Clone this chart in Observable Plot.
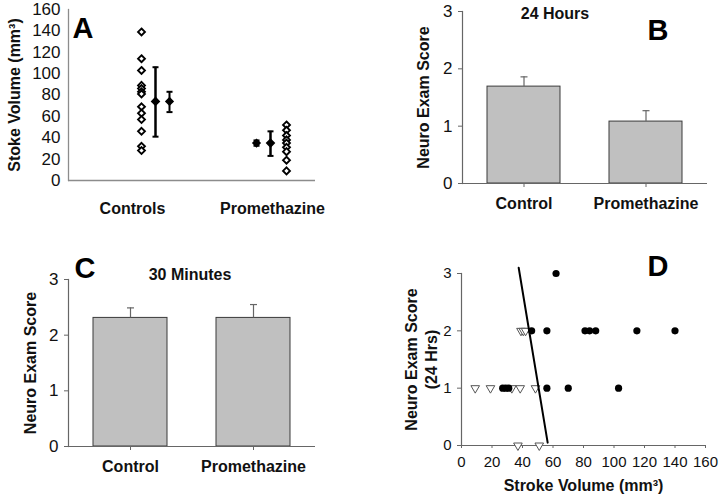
<!DOCTYPE html>
<html><head><meta charset="utf-8">
<script src="https://cdn.jsdelivr.net/npm/d3@7"></script>
<script src="https://cdn.jsdelivr.net/npm/@observablehq/plot@0.6"></script>
<style>
body{margin:0;background:#fff;}
#wrap{position:relative;width:720px;height:494px;overflow:hidden;background:#fff;}
#wrap > *{position:absolute;margin:0;}
</style></head><body><div id="wrap"></div>
<script>
// ---------- Data ----------
// Panel A: stroke volume (mm3)
const groupsA = ["Controls", "Promethazine"];
const controlVolumes = [139, 114, 103, 89, 86, 83, 81, 69, 63, 57, 46, 32, 28];
const promethazineVolumes = [52, 47, 42, 38, 35, 31, 27, 19, 9];
const meanVolumes = [74, 35];
const sdLow = [41, 23];
const sdHigh = [106, 46];
const semLow = [64, 32.5];
const semHigh = [83, 37.5];
const volumeTicks = [0, 20, 40, 60, 80, 100, 120, 140, 160];

// Panels B and C: neuro exam score
const groupsBC = ["Control", "Promethazine"];
const score24h = [1.69, 1.08];
const score24hErr = [1.86, 1.27];
const score30m = [2.31, 2.31];
const score30mErr = [2.49, 2.55];
const scoreTicks = [0, 1, 2, 3];

// Panel D: score vs stroke volume
const dControlVolume = [62, 46, 56, 81, 84, 88, 115, 140, 27, 29, 31, 56, 70, 103];
const dControlScore  = [3, 2, 2, 2, 2, 2, 2, 2, 1, 1, 1, 1, 1, 1];
const dPromVolume = [39, 40.5, 42, 9, 19, 33, 38.5, 48.5, 37, 51];
const dPromScore  = [2, 2, 2, 1, 1, 1, 1, 1, 0, 0];
const fitVolume = [37.5, 56.5];
const fitScore = [3.1, 0.05];
const strokeTicks = [0, 20, 40, 60, 80, 100, 120, 140, 160];

// ---------- Helpers ----------
const font = "'Liberation Sans', Arial, Helvetica, sans-serif";
const wrap = document.getElementById("wrap");
const capSymbol = {draw(ctx, size) {const w = Math.sqrt(size / Math.PI); ctx.moveTo(-w, 0); ctx.lineTo(w, 0);}};
const baseStyle = {fontFamily: font, fontSize: "17px", color: "#111", background: "transparent", overflow: "visible"};
function place(el, left, top) { el.style.left = left + "px"; el.style.top = top + "px"; wrap.appendChild(el); }
const bold = {fontWeight: "bold", fontSize: 16, fill: "#111"};
const intFmt = d => String(d);
function letter(t, dx, dy) {
  return Plot.text([t], {text: d => d, frameAnchor: "top-left", dx, dy, textAnchor: "start", lineAnchor: "top", fontSize: 29, fontWeight: "bold", fill: "#000"});
}
function ylabel(t, dx) {
  return Plot.text([t], {text: d => d, frameAnchor: "left", dx, rotate: -90, textAnchor: "middle", lineAnchor: "middle", lineHeight: 1.25, ...bold});
}

// ---------- Panel A ----------
const rowsA = groupsA.map((g, i) => ({group: g, mean: meanVolumes[i], sdLow: sdLow[i], sdHigh: sdHigh[i], semLow: semLow[i], semHigh: semHigh[i]}));
const ptsA = {Controls: controlVolumes, Promethazine: promethazineVolumes};
const offsetA = {Controls: {pts: -14, sem: 14, label: -23}, Promethazine: {pts: 16, sem: -14, label: 2}};
const groupMarksA = rowsA.flatMap(r => {
  const o = offsetA[r.group];
  return [
    Plot.dot(ptsA[r.group], {x: () => r.group, y: d => d, dx: o.pts, symbol: "diamond2", r: 3.1, stroke: "#000", strokeWidth: 1.9, fill: "white"}),
    Plot.ruleX([r], {x: "group", y1: "semLow", y2: "semHigh", dx: o.sem, stroke: "#000", strokeWidth: 2}),
    Plot.dot([r], {x: "group", y: "semLow", dx: o.sem, symbol: capSymbol, r: 3, stroke: "#000", strokeWidth: 2, fill: "none"}),
    Plot.dot([r], {x: "group", y: "semHigh", dx: o.sem, symbol: capSymbol, r: 3, stroke: "#000", strokeWidth: 2, fill: "none"}),
    Plot.dot([r], {x: "group", y: "mean", dx: o.sem, symbol: "diamond2", r: 3.2, fill: "#000", stroke: "#000"}),
    Plot.text([r.group], {x: d => d, text: d => d, frameAnchor: "bottom", dy: 33, dx: o.label, ...bold})
  ];
});
const plotA = Plot.plot({
  width: 360, height: 240,
  marginLeft: 68, marginRight: 45, marginTop: 9, marginBottom: 60,
  style: baseStyle,
  x: {type: "point", domain: groupsA, range: [155, 270], padding: 0, axis: null},
  y: {domain: [0, 160]},
  marks: [
    Plot.ruleY([0], {stroke: "#8c8c8c", strokeWidth: 1.3}),
    Plot.frame({anchor: "left", stroke: "#8c8c8c", strokeWidth: 1.3}),
    Plot.axisY({ticks: volumeTicks, tickFormat: intFmt, tickSize: 0, tickPadding: 8, label: null, fontSize: 17}),
    Plot.ruleX(rowsA, {x: "group", y1: "sdLow", y2: "sdHigh", stroke: "#000", strokeWidth: 2.5}),
    Plot.dot(rowsA, {x: "group", y: "sdLow", symbol: capSymbol, r: 3, stroke: "#000", strokeWidth: 2, fill: "none"}),
    Plot.dot(rowsA, {x: "group", y: "sdHigh", symbol: capSymbol, r: 3, stroke: "#000", strokeWidth: 2, fill: "none"}),
    Plot.dot(rowsA, {x: "group", y: "mean", symbol: "diamond2", r: 3.4, fill: "#000", stroke: "#000"}),
    ...groupMarksA,
    letter("A", 4, 8),
    ylabel("Stoke Volume (mm³)", -55)
  ]
});
place(plotA, 0, 0);

// ---------- Bar panels B and C ----------
function barPanel(values, errs, opts) {
  const rows = groupsBC.map((g, i) => ({group: g, mean: values[i], err: errs[i]}));
  return Plot.plot({
    width: 360, height: opts.height,
    marginLeft: opts.ml, marginRight: opts.mr, marginTop: opts.mt, marginBottom: opts.mb,
    style: baseStyle,
    x: {type: "band", domain: groupsBC, paddingInner: 0.4, paddingOuter: 0.2},
    y: {domain: [0, 3]},
    marks: [
      Plot.barY(rows, {x: "group", y: "mean", fill: "#c0c0c0", stroke: "#3a3a3a", strokeWidth: 1}),
      Plot.ruleX(rows, {x: "group", y1: "mean", y2: "err", stroke: "#666", strokeWidth: 1.2}),
      Plot.dot(rows, {x: "group", y: "err", symbol: capSymbol, r: 3.5, stroke: "#666", strokeWidth: 1.2, fill: "none"}),
      Plot.ruleY([0], {stroke: "#666", strokeWidth: 1.2}),
      Plot.frame({anchor: "left", stroke: "#666", strokeWidth: 1.2}),
      Plot.axisY({ticks: scoreTicks, tickFormat: intFmt, tickSize: 4, tickPadding: 6, label: null, fontSize: 17, stroke: "#666"}),
      Plot.axisX({tickSize: 4, tickPadding: 10, label: null, fontSize: 16, fontWeight: "bold", stroke: "#666"}),
      Plot.text([opts.title], {text: d => d, frameAnchor: "top", dx: opts.tdx, dy: opts.tdy, lineAnchor: "top", ...bold}),
      letter(opts.letter, opts.ldx, opts.ldy),
      ylabel("Neuro Exam Score", opts.ydx)
    ]
  });
}
const plotB = barPanel(score24h, score24hErr, {height: 240, ml: 102, mr: 13, mt: 11, mb: 57, title: "24 Hours", tdx: -30, tdy: -4, letter: "B", ldx: 185, ldy: 8, ydx: -40});
place(plotB, 360, 0);
const plotC = barPanel(score30m, score30mErr, {height: 254, ml: 68, mr: 45, mt: 39, mb: 48, title: "30 Minutes", tdx: -2, tdy: -11, letter: "C", ldx: 6, ldy: -22, ydx: -39});
place(plotC, 0, 240);

// ---------- Panel D ----------
const ctrlD = dControlVolume.map((v, i) => ({v, s: dControlScore[i]}));
const promD = dPromVolume.map((v, i) => ({v, s: dPromScore[i]}));
const fitD = fitVolume.map((v, i) => ({v, s: fitScore[i]}));
const plotD = Plot.plot({
  width: 360, height: 254,
  marginLeft: 101, marginRight: 15, marginTop: 33, marginBottom: 49,
  style: baseStyle,
  x: {domain: [0, 160]},
  y: {domain: [0, 3]},
  marks: [
    Plot.ruleY([0], {stroke: "#666", strokeWidth: 1.2}),
    Plot.frame({anchor: "left", stroke: "#666", strokeWidth: 1.2}),
    Plot.axisY({ticks: scoreTicks, tickFormat: intFmt, tickSize: 4, tickPadding: 6, label: null, fontSize: 15, stroke: "#666"}),
    Plot.axisX({ticks: strokeTicks, tickFormat: intFmt, tickSize: 3, tickPadding: 8, label: null, fontSize: 15, stroke: "#666"}),
    Plot.dot(promD, {x: "v", y: "s", symbol: "triangle", rotate: 180, r: 3.2, fill: "white", stroke: "#555", strokeWidth: 1}),
    Plot.dot(ctrlD, {x: "v", y: "s", r: 3.6, fill: "#000"}),
    Plot.line(fitD, {x: "v", y: "s", stroke: "#000", strokeWidth: 2}),
    Plot.text(["Stroke Volume (mm³)"], {text: d => d, frameAnchor: "bottom", dy: 40, lineAnchor: "middle", ...bold}),
    letter("D", 186, -18),
    ylabel("Neuro Exam Score\n(24 Hrs)", -41)
  ]
});
place(plotD, 360, 240);
</script>
</body></html>
